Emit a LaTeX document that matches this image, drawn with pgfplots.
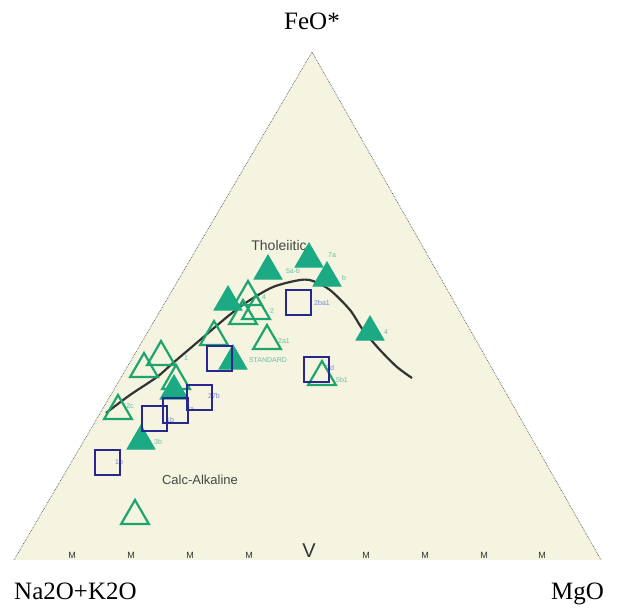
\documentclass[border=0pt]{standalone}
\usepackage{fontspec}
\setmainfont{Liberation Serif}
\newfontfamily\sansf{Liberation Sans}
\usepackage{pgfplots}
\pgfplotsset{compat=1.18}
\definecolor{cream}{RGB}{244,244,224}
\definecolor{tgreen}{RGB}{28,170,132}
\definecolor{ogreen}{RGB}{30,165,110}
\definecolor{navy}{RGB}{40,40,140}
\definecolor{lblue}{RGB}{120,130,210}
\definecolor{lgreen}{RGB}{110,190,160}
\tikzset{lab/.style={font=\sansf\fontsize{7}{8}\selectfont},
  tk/.style={black!80, font=\sansf\fontsize{9}{10}\selectfont}}
\begin{document}
\begin{tikzpicture}
\begin{axis}[scale only axis, width=617pt, height=607pt,
  xmin=0, xmax=617, ymin=0, ymax=607, y dir=reverse,
  axis lines=none, clip=false]
% background triangle
\addplot[fill=cream, draw=none] coordinates {(14,560) (312,52) (601,560) (14,560)};
\addplot[densely dotted, gray!70!black, line width=0.7pt] coordinates {(14,560) (312,52) (601,560)};
% trend line
\addplot[smooth, line width=2.2pt, black!80] coordinates {
(106,413) (130,395) (157,377) (173,363) (200,340) (227,317) (247,302)
(273,287) (300,280) (313,281) (330,290) (350,310) (363,330) (380,350)
(397,367) (412,378)};
% open triangles
\addplot[only marks, mark=triangle, mark size=16pt, mark options={draw=ogreen, line width=2.2pt}] coordinates {
(248,297) (243,316) (256,311) (267,341) (214,337) (161,357) (144,369)
(176,381) (118,411) (322,377) (135,516)};
% filled triangles
\addplot[only marks, mark=triangle*, mark size=16pt, mark options={draw=tgreen, fill=tgreen, line width=1pt}] coordinates {
(309,259) (268,271) (327,278) (228,302) (370,332) (233,361) (174,391) (141,441)};
% squares
\addplot[only marks, mark=square, mark size=12.5pt, mark options={draw=navy, line width=2pt}] coordinates {
(298,302) (219,358) (316,369) (199,397) (175,410) (154,418) (107,462)};
% small point labels
\node[lblue, lab] at (axis cs:322,303) {2ba1};
\node[lgreen, lab] at (axis cs:332,255) {7a};
\node[lgreen, lab] at (axis cs:293,271) {5a-b};
\node[lgreen, lab] at (axis cs:344,278) {b};
\node[lgreen, lab] at (axis cs:284,341) {2a1};
\node[lgreen, lab] at (axis cs:268,360) {STANDARD};
\node[lblue, lab] at (axis cs:330,368) {2d};
\node[lgreen, lab] at (axis cs:342,380) {5b1};
\node[lgreen, lab] at (axis cs:386,332) {4};
\node[lblue, lab] at (axis cs:214,396) {27b};
\node[lblue, lab] at (axis cs:190,409) {2a};
\node[lblue, lab] at (axis cs:170,420) {1b};
\node[lgreen, lab] at (axis cs:158,442) {3b};
\node[lblue, lab] at (axis cs:119,462) {1b};
\node[lgreen, lab] at (axis cs:186,358) {1};
\node[lgreen, lab] at (axis cs:130,406) {2c};
\node[lgreen, lab] at (axis cs:264,297) {4};
\node[lgreen, lab] at (axis cs:272,311) {2};
% field names
\node[black!72, font=\sansf\fontsize{14}{16}\selectfont] at (axis cs:279,245) {Tholeiitic};
\node[black!72, font=\sansf\fontsize{13}{15}\selectfont] at (axis cs:200,480) {Calc-Alkaline};
% base tick marks
\node[tk] at (axis cs:72,555) {M};
\node[tk] at (axis cs:131,555) {M};
\node[tk] at (axis cs:190,555) {M};
\node[tk] at (axis cs:249,555) {M};
\node[tk] at (axis cs:366,555) {M};
\node[tk] at (axis cs:425,555) {M};
\node[tk] at (axis cs:484,555) {M};
\node[tk] at (axis cs:542,555) {M};
\node[black!80, font=\sansf\fontsize{20}{20}\selectfont] at (axis cs:309,551) {V};
% vertex labels
\node[font=\fontsize{25}{28}\selectfont] at (axis cs:312,21) {FeO*};
\node[anchor=base west, inner sep=0pt, font=\fontsize{25}{28}\selectfont] at (axis cs:14,599) {Na2O+K2O};
\node[anchor=base east, inner sep=0pt, font=\fontsize{25}{28}\selectfont] at (axis cs:604,599) {MgO};
\end{axis}
\pgfresetboundingbox
\useasboundingbox (0,0) rectangle (617pt,607pt);
\end{tikzpicture}
\end{document}
